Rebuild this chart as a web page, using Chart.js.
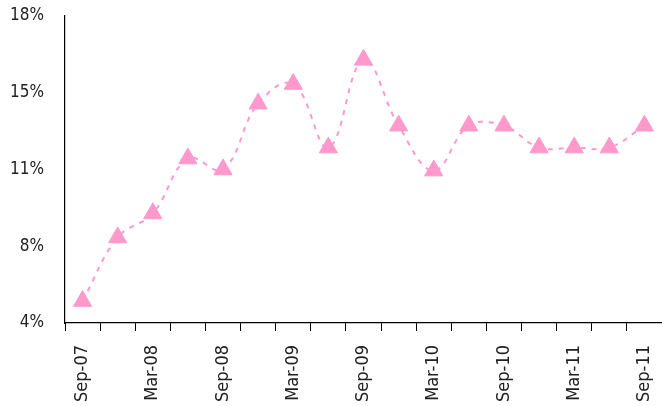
<!DOCTYPE html>
<html>
<head>
<meta charset="utf-8">
<script src="https://cdn.jsdelivr.net/npm/chart.js@4.4.1/dist/chart.umd.min.js"></script>
<style>
  html, body { margin: 0; padding: 0; background: #fff; }
  #wrap { width: 662px; height: 406px; position: relative; }
</style>
</head>
<body>
<div id="wrap"><canvas id="chart"></canvas></div>
<script>
// Quarterly periods, Sep-07 .. Sep-11
const quarters = ['Sep-07', 'Dec-07', 'Mar-08', 'Jun-08', 'Sep-08', 'Dec-08', 'Mar-09', 'Jun-09',
    'Sep-09', 'Dec-09', 'Mar-10', 'Jun-10', 'Sep-10', 'Dec-10', 'Mar-11', 'Jun-11', 'Sep-11'];

// Series values (%)
const values = [5.0, 7.9, 9.0, 11.5, 11.0, 14.0, 14.9, 12.0, 16.0, 13.0, 10.95, 13.0, 13.0, 12.0, 12.0, 12.0, 13.0];

// Y axis range
const yMin = 4;
const yMax = 18;
const yStep = 3.5;

const pink = '#ff99cc';
const fontFamily = "'DejaVu Sans Condensed', 'Liberation Sans', sans-serif";

const ctx = document.getElementById('chart').getContext('2d');
const chart = new Chart(ctx, {
    type: 'line',
    data: {
        labels: quarters,
        datasets: [{
            data: values,
            borderColor: pink,
            borderWidth: 2,
            borderDash: [5, 6],
            tension: 0.4,
            fill: false,
            pointStyle: 'triangle',
            pointRadius: 10.5,
            pointBackgroundColor: pink,
            pointBorderColor: pink,
            pointBorderWidth: 1
        }]
    },
    options: {
        responsive: true,
        maintainAspectRatio: false,
        animation: false,
        layout: { autoPadding: false, padding: 0 },
        plugins: {
            legend: { display: false },
            tooltip: { enabled: false }
        },
        scales: {
            x: {
                offset: true,
                grid: {
                    display: true,
                    offset: true,
                    drawOnChartArea: false,
                    drawTicks: true,
                    tickLength: 8,
                    color: '#000',
                    lineWidth: 1
                },
                border: { display: true, color: '#000', width: 1.2 },
                ticks: {
                    autoSkip: false,
                    maxRotation: 90,
                    minRotation: 90,
                    padding: 14,
                    color: '#222',
                    font: { family: fontFamily, size: 18 },
                    callback: function (val, i) {
                        return i % 2 === 0 ? quarters[i] : '';
                    }
                },
                afterFit: function (scale) {
                    scale.height = 83;
                    scale.paddingLeft = 0;
                    scale.paddingRight = 0;
                }
            },
            y: {
                min: yMin,
                max: yMax,
                grid: { display: false, drawTicks: false },
                border: { display: true, color: '#000', width: 1.2 },
                ticks: {
                    stepSize: yStep,
                    padding: 21,
                    color: '#222',
                    font: { family: fontFamily, size: 17 },
                    callback: function (v) {
                        return Math.round(v) + '%';
                    }
                },
                afterFit: function (scale) {
                    scale.width = 65;
                    scale.paddingTop = 16;
                    scale.paddingBottom = 0;
                }
            }
        }
    }
});
</script>
</body>
</html>
